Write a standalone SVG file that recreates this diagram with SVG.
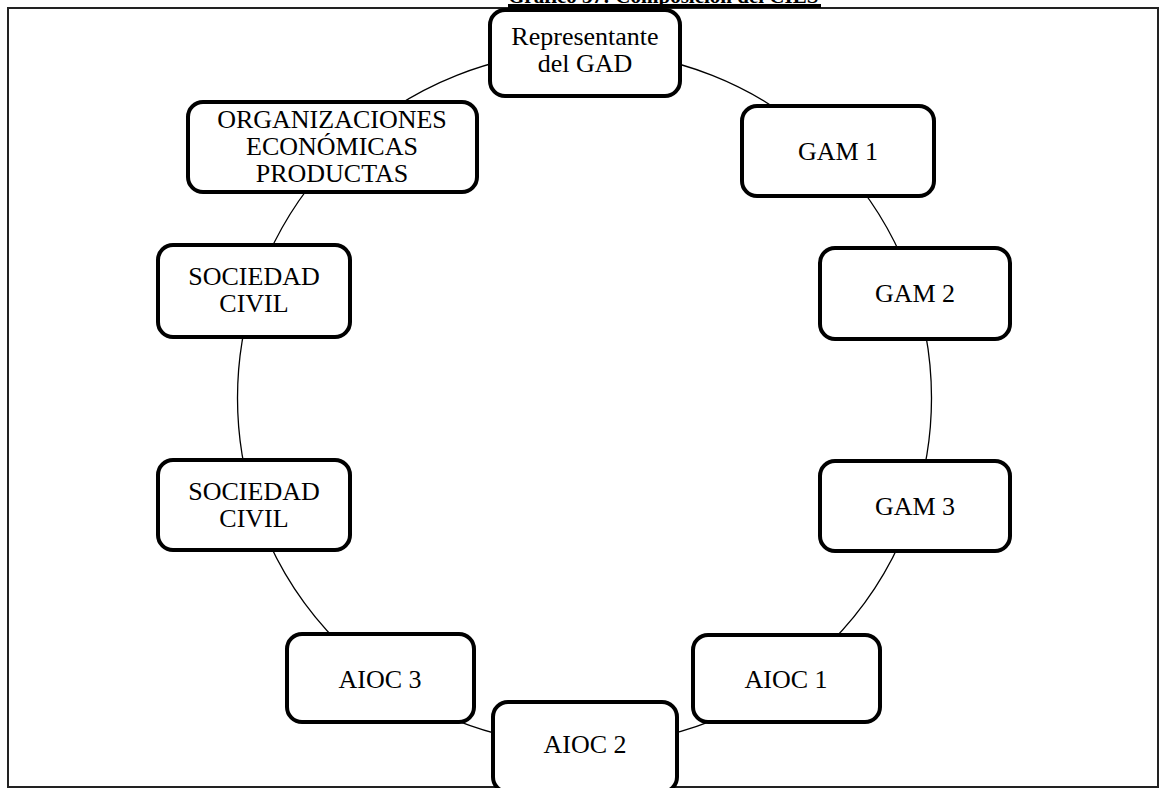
<svg xmlns="http://www.w3.org/2000/svg" width="1160" height="788" viewBox="0 0 1160 788">
  <style>
    .frame { fill: none; stroke: #222; stroke-width: 2; }
    .ring { fill: none; stroke: #000; stroke-width: 1.3; }
    .box { fill: #fff; stroke: #000; stroke-width: 4; }
    .lbl { font-family: "Liberation Serif", "Times New Roman", serif; font-size: 26px; fill: #000; text-anchor: middle; }
    .title { font-family: "Liberation Serif", "Times New Roman", serif; font-size: 21px; font-weight: bold; fill: #000; }
  </style>
  <rect width="1160" height="788" fill="#fff"/>

  <!-- outer frame -->
  <rect class="frame" x="8" y="8" width="1150" height="779"/>

  <!-- title, running off the top edge -->
  <g id="title">
    <text class="title" x="508" y="3">Gráfico 37: Composición del CIES</text>
    <rect x="508" y="4" width="313" height="4" fill="#000"/>
  </g>

  <!-- ring joining the members -->
  <g id="connectors">
    <circle class="ring" cx="584.5" cy="398" r="347"/>
  </g>

  <g id="representante">
    <rect class="box" x="490" y="10" width="190" height="86" rx="15"/>
    <text class="lbl" x="585" y="45">Representante</text>
    <text class="lbl" x="585" y="72">del GAD</text>
  </g>

  <g id="gam1">
    <rect class="box" x="742" y="106" width="192" height="90" rx="15"/>
    <text class="lbl" x="838" y="160">GAM 1</text>
  </g>

  <g id="gam2">
    <rect class="box" x="820" y="248" width="190" height="91" rx="15"/>
    <text class="lbl" x="915" y="302">GAM 2</text>
  </g>

  <g id="gam3">
    <rect class="box" x="820" y="461" width="190" height="90" rx="15"/>
    <text class="lbl" x="915" y="515">GAM 3</text>
  </g>

  <g id="aioc1">
    <rect class="box" x="693" y="635" width="187" height="87" rx="15"/>
    <text class="lbl" x="786" y="688">AIOC 1</text>
  </g>

  <g id="aioc2">
    <rect class="box" x="493" y="702" width="184" height="90" rx="15"/>
    <text class="lbl" x="585" y="753">AIOC 2</text>
  </g>

  <g id="aioc3">
    <rect class="box" x="287" y="634" width="187" height="88" rx="15"/>
    <text class="lbl" x="380" y="688">AIOC 3</text>
  </g>

  <g id="sociedad-civil-2">
    <rect class="box" x="158" y="460" width="192" height="90" rx="15"/>
    <text class="lbl" x="254" y="500">SOCIEDAD</text>
    <text class="lbl" x="254" y="527">CIVIL</text>
  </g>

  <g id="sociedad-civil-1">
    <rect class="box" x="158" y="245" width="192" height="92" rx="15"/>
    <text class="lbl" x="254" y="285">SOCIEDAD</text>
    <text class="lbl" x="254" y="312">CIVIL</text>
  </g>

  <g id="organizaciones">
    <rect class="box" x="188" y="102" width="289" height="90" rx="15"/>
    <text class="lbl" x="332" y="128">ORGANIZACIONES</text>
    <text class="lbl" x="332" y="155">ECONÓMICAS</text>
    <text class="lbl" x="332" y="182">PRODUCTAS</text>
  </g>
</svg>
